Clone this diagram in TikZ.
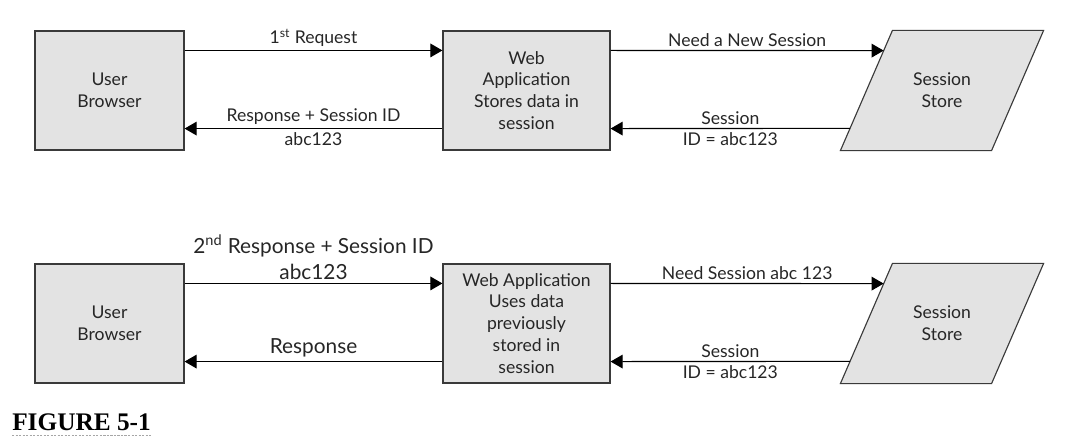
\documentclass[tikz,border=0pt]{standalone}
\usepackage{fontspec}
\setmainfont{Lato}
\newfontfamily\captionfont{Liberation Serif}
\usetikzlibrary{arrows.meta}
\usetikzlibrary{backgrounds}
\usetikzlibrary{calc}
\definecolor{boxgray}{HTML}{E3E3E3}
\definecolor{linegray}{HTML}{3A3A3A}
\definecolor{textgray}{HTML}{262626}

\begin{document}
\begin{tikzpicture}[x=0.025cm,y=-0.025cm,font=\fontsize{12.5}{15.6}\selectfont,text=textgray]
	\useasboundingbox (0,0) rectangle (1079,443);

	\begin{scope}[every node/.style={draw=linegray,fill=boxgray,line width=0.8pt,align=center,minimum height=2.975cm}]
		% first request
		\node[minimum width=3.725cm] (browser1) at (109.5,90.5) {User\\Browser};
		\node[minimum width=4.175cm] (web1) at (526.5,90.5) {Web\\Application\\Stores data in\\session};
		\node[draw=none,fill=none,minimum width=3.75cm] (store1) at (942,90.5) {Session\\Store};
		% second request
		\node[minimum width=3.725cm] (browser2) at (109.5,323.5) {User\\Browser};
		\node[minimum width=4.175cm] (web2) at (526.5,323.5) {Web Application\\Uses data\\previously\\stored in\\session};
		\node[draw=none,fill=none,minimum width=3.75cm] (store2) at (942,323.5) {Session\\Store};
	\end{scope}

	% slanted store shapes
	\foreach \s in {store1,store2} {
		\coordinate (\s tl) at ([xshift=0.65cm]\s.north west);
		\coordinate (\s tr) at ([xshift=0.65cm]\s.north east);
		\coordinate (\s br) at ([xshift=-0.65cm]\s.south east);
		\coordinate (\s bl) at ([xshift=-0.65cm]\s.south west);
		\begin{scope}[on background layer]
			\draw[draw=linegray,fill=boxgray,line width=0.8pt] (\s tl) -- (\s tr) -- (\s br) -- (\s bl) -- cycle;
		\end{scope}
	}

	\begin{scope}[>={Triangle[length=0.3cm,width=0.34cm]},
	              every node/.style={inner sep=2.5pt,align=center},
	              every edge/.style={draw=black,line width=0.8pt,->}]
		\path ([yshift=-0.5cm]browser1.north east) edge node[above] {1\textsuperscript{st} Request} ([yshift=-0.5cm]web1.north west);
		\path ([yshift=0.55cm]web1.south west) edge node[above] {Response + Session ID} node[below] {abc123} ([yshift=0.55cm]browser1.south east);
		\path ([yshift=-0.5cm]web1.north east) edge node[above] {Need a New Session} ($(store1tl)!0.168!(store1bl)$);
		\path ($(store1tl)!0.815!(store1bl)$) edge node[above] {Session} node[below] {ID = abc123} ([yshift=0.55cm]web1.south east);

		\path ([yshift=-0.5cm]browser2.north east) edge node[above,font=\fontsize{14.8}{18.6}\selectfont] {2\textsuperscript{nd} Response + Session ID\\abc123} ([yshift=-0.5cm]web2.north west);
		\path ([yshift=0.55cm]web2.south west) edge node[above,font=\fontsize{14.8}{18.6}\selectfont] {Response} ([yshift=0.55cm]browser2.south east);
		\path ([yshift=-0.5cm]web2.north east) edge node[above] {Need Session abc 123} ($(store2tl)!0.168!(store2bl)$);
		\path ($(store2tl)!0.815!(store2bl)$) edge node[above] {Session} node[below] {ID = abc123} ([yshift=0.55cm]web2.south east);
	\end{scope}

	\node[anchor=base west,inner sep=0pt,text=black,font=\captionfont\bfseries\fontsize{18}{20}\selectfont] (figlabel) at (12,430) {FIGURE 5-1};
	\draw[gray!70,dash pattern=on 1.5pt off 1pt,line width=0.5pt] ([yshift=-3.5pt]figlabel.base west) -- ([yshift=-3.5pt]figlabel.base east);
\end{tikzpicture}
\end{document}
